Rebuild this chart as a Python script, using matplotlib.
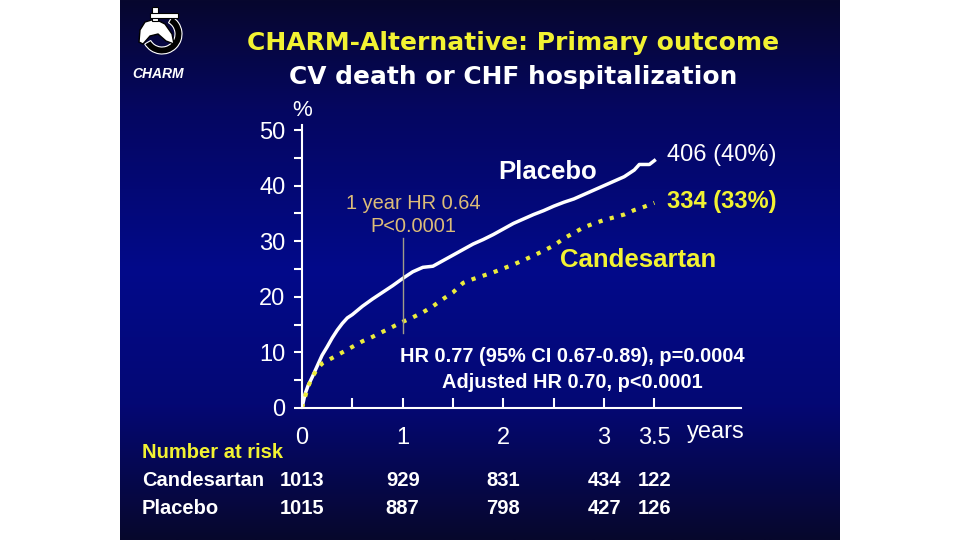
import numpy as np
import matplotlib
matplotlib.use('Agg')
import matplotlib.pyplot as plt
from matplotlib.colors import LinearSegmentedColormap
from matplotlib.patches import Polygon, Wedge, Rectangle
import matplotlib.transforms as mtransforms

# Kaplan-Meier curves (years, cumulative %)
placebo_t = [0, 0.03, 0.06, 0.1, 0.15, 0.2, 0.25, 0.3, 0.35, 0.4, 0.45, 0.5, 0.6, 0.7,
             0.8, 0.9, 1.0, 1.1, 1.2, 1.3, 1.4, 1.5, 1.6, 1.7, 1.8, 1.9, 2.0, 2.1, 2.2,
             2.3, 2.4, 2.5, 2.6, 2.7, 2.8, 2.9, 3.0, 3.1, 3.2, 3.3, 3.35, 3.45, 3.5]
placebo_y = [0, 2.5, 4, 5.5, 7.5, 9.5, 11, 12.6, 14, 15.2, 16.2, 16.8, 18.3, 19.6,
             20.8, 22, 23.3, 24.5, 25.3, 25.5, 26.5, 27.5, 28.5, 29.5, 30.3, 31.2, 32.2,
             33.2, 34, 34.8, 35.5, 36.3, 37, 37.6, 38.4, 39.2, 40, 40.8, 41.6, 42.8,
             43.8, 43.8, 44.5]
cand_t = [0, 0.03, 0.06, 0.1, 0.15, 0.2, 0.3, 0.4, 0.5, 0.6, 0.7, 0.8, 0.9, 1.0, 1.1,
          1.2, 1.3, 1.4, 1.5, 1.6, 1.7, 1.8, 1.9, 2.0, 2.1, 2.2, 2.3, 2.4, 2.5, 2.6,
          2.7, 2.8, 2.9, 3.0, 3.1, 3.2, 3.3, 3.4, 3.5]
cand_y = [0, 2, 3.8, 5.5, 7, 8, 9, 10, 11, 12, 12.8, 13.7, 14.6, 15.5, 16.3,
          17.2, 18.3, 19.6, 20.8, 22.5, 23.2, 23.8, 24.4, 25.1, 25.8, 26.6, 27.4, 28.3,
          29.2, 30.5, 31.5, 32.5, 33.2, 33.8, 34.3, 34.8, 35.6, 36.2, 36.9]

risk_times = [0, 1, 2, 3, 3.5]
risk_cand = [1013, 929, 831, 434, 122]
risk_plac = [1015, 887, 798, 427, 126]

xtick_pos = [0, 1, 2, 3, 3.5]
xtick_labels = ['0', '1', '2', '3', '3.5']
ytick_pos = [0, 10, 20, 30, 40, 50]

YELLOW = '#f2f232'
TAN = '#dcbc78'
W, H = 960, 540

fig = plt.figure(figsize=(9.6, 5.4), dpi=100, facecolor='white')

# slide background with vertical gradient
bg = fig.add_axes([120 / W, 0, 720 / W, 1])
bg.axis('off')
cmap = LinearSegmentedColormap.from_list('slide', [
    (0.0, '#07072e'), (0.2, '#050660'), (0.5, '#020a8a'),
    (0.75, '#040874'), (1.0, '#07072c')])
grad = np.linspace(0, 1, 256).reshape(-1, 1)
bg.imshow(grad, aspect='auto', cmap=cmap, extent=[0, 1, 1, 0])
bg.set_xlim(0, 1)
bg.set_ylim(1, 0)

# rough CHARM logo, drawn in slide pixel units (y grows downwards)
logo = fig.add_axes([130 / W, 1 - 85 / H, 70 / W, 85 / H])
logo.axis('off')
logo.set_xlim(130, 200)
logo.set_ylim(85, 0)
logo.add_patch(Wedge((162, 34), 20, -60, 150, width=7, fc='black', ec='white', lw=0.8))
logo.add_patch(Polygon([[139, 42], [140, 30], [145, 22], [155, 19], [165, 24], [172, 34],
                        [174, 44], [166, 41], [158, 34], [150, 36], [143, 44]],
                       closed=True, fc='white', ec='black', lw=1))
logo.add_patch(Rectangle((152, 7), 6, 14, fc='white', ec='black', lw=0.8))
logo.add_patch(Rectangle((150, 13), 28, 5, fc='white', ec='black', lw=0.8))
fig.text(158 / W, 1 - 74 / H, 'CHARM', color='white', fontsize=10, fontweight='bold',
         fontstyle='italic', family='Liberation Sans', ha='center', va='center')

# titles
fig.text(513 / W, 1 - 43 / H, 'CHARM-Alternative: Primary outcome', color=YELLOW,
         fontsize=18, fontweight='bold', family='DejaVu Sans', ha='center', va='center')
fig.text(513 / W, 1 - 77 / H, 'CV death or CHF hospitalization', color='white',
         fontsize=17.9, fontweight='bold', family='DejaVu Sans', ha='center', va='center')

# main plot
ax = fig.add_axes([302 / W, 1 - 408 / H, 439 / W, 283 / H])
ax.patch.set_alpha(0)
ax.set_xlim(0, 4.36)
ax.set_ylim(0, 50.9)
for s in ['top', 'right']:
    ax.spines[s].set_visible(False)
for s in ['left', 'bottom']:
    ax.spines[s].set_color('white')
    ax.spines[s].set_linewidth(1.5)

ax.plot(placebo_t, placebo_y, color='white', lw=2.5, solid_joinstyle='round')
ax.plot(cand_t, cand_y, color='#ecec3c', lw=3, linestyle=(0, (1, 1.8)))
ax.plot([1, 1], [13.5, 30.6], color='#a09c88', lw=1)

ax.set_yticks(ytick_pos)
ax.set_yticks(np.arange(5, 50, 10), minor=True)
ax.set_xticks(xtick_pos)
ax.set_xticklabels(xtick_labels)
ax.set_xticks([0.5, 1.5, 2.5], minor=True)
ax.tick_params(axis='y', which='both', direction='out', length=6, width=1.5,
               colors='white', labelsize=17, pad=6)
ax.tick_params(axis='x', which='both', direction='in', length=7, width=1.5,
               colors='white', labelsize=17, pad=14)
for lab in ax.get_xticklabels() + ax.get_yticklabels():
    lab.set_family('Liberation Sans')

ax.text(0, 51.6, '%', color='white', fontsize=16, family='Liberation Sans',
        ha='center', va='bottom')
fig.text(716 / W, 1 - 432 / H, 'years', color='white', fontsize=17,
         family='Liberation Sans', ha='center', va='center')

ax.text(548 / W, 1 - 172 / H, 'Placebo', transform=fig.transFigure, color='white',
        fontsize=18.5, fontweight='bold', family='Liberation Sans', ha='center', va='center')
ax.text(638 / W, 1 - 260 / H, 'Candesartan', transform=fig.transFigure, color=YELLOW,
        fontsize=18.5, fontweight='bold', family='Liberation Sans', ha='center', va='center')
ax.text(667 / W, 1 - 155 / H, '406 (40%)', transform=fig.transFigure, color='white',
        fontsize=17, family='Liberation Sans', ha='left', va='center')
ax.text(667 / W, 1 - 202 / H, '334 (33%)', transform=fig.transFigure, color=YELLOW,
        fontsize=17, fontweight='bold', family='Liberation Sans', ha='left', va='center')
ax.text(413 / W, 1 - 203 / H, '1 year HR 0.64', transform=fig.transFigure, color=TAN,
        fontsize=14.4, family='Liberation Sans', ha='center', va='center')
ax.text(413 / W, 1 - 227 / H, 'P<0.0001', transform=fig.transFigure, color=TAN,
        fontsize=14.4, family='Liberation Sans', ha='center', va='center')
ax.text(572 / W, 1 - 357 / H, 'HR 0.77 (95% CI 0.67-0.89), p=0.0004', transform=fig.transFigure,
        color='white', fontsize=14.4, fontweight='bold', family='Liberation Sans',
        ha='center', va='center')
ax.text(572 / W, 1 - 383 / H, 'Adjusted HR 0.70, p<0.0001', transform=fig.transFigure,
        color='white', fontsize=14.4, fontweight='bold', family='Liberation Sans',
        ha='center', va='center')

# number at risk table
fig.text(142 / W, 1 - 452 / H, 'Number at risk', color=YELLOW, fontsize=14.5,
         fontweight='bold', family='Liberation Sans', ha='left', va='center')
fig.text(142 / W, 1 - 480 / H, 'Candesartan', color='white', fontsize=14.5,
         fontweight='bold', family='Liberation Sans', ha='left', va='center')
fig.text(142 / W, 1 - 508 / H, 'Placebo', color='white', fontsize=14.5,
         fontweight='bold', family='Liberation Sans', ha='left', va='center')
trans = mtransforms.blended_transform_factory(ax.transData, fig.transFigure)
for t, c, p in zip(risk_times, risk_cand, risk_plac):
    ax.text(t, 1 - 480 / H, str(c), transform=trans, color='white', fontsize=14.5,
            fontweight='bold', family='Liberation Sans', ha='center', va='center',
            clip_on=False)
    ax.text(t, 1 - 508 / H, str(p), transform=trans, color='white', fontsize=14.5,
            fontweight='bold', family='Liberation Sans', ha='center', va='center',
            clip_on=False)

fig.savefig('out.png', dpi=100, facecolor='white')
